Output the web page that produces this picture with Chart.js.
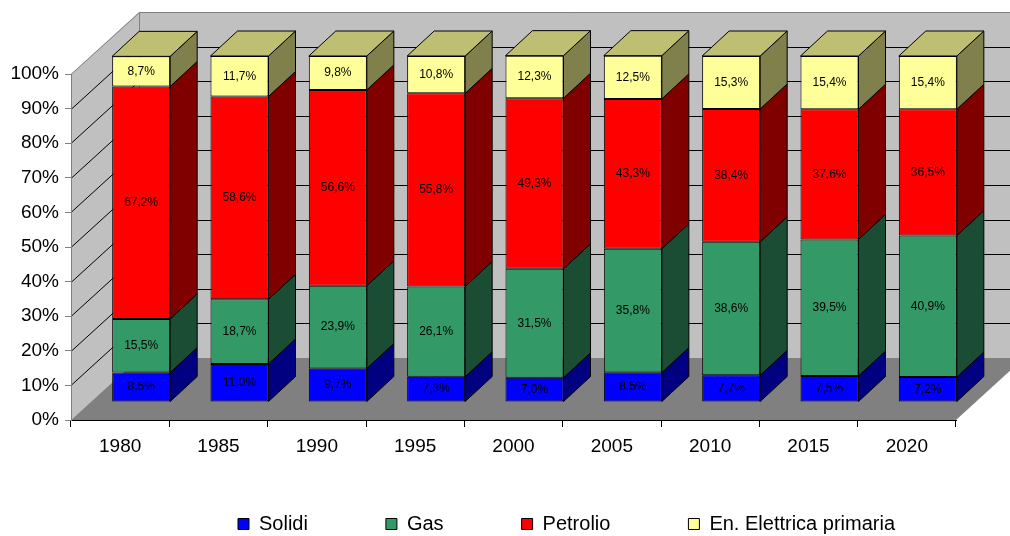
<!DOCTYPE html>
<html>
<head>
<meta charset="utf-8">
<style>
  html, body { margin: 0; padding: 0; background: #fff; }
  #wrap { width: 1010px; height: 536px; }
</style>
</head>
<body>
<div id="wrap"><canvas id="chart" width="1010" height="536"></canvas></div>
<script src="https://cdn.jsdelivr.net/npm/chart.js@4.4.1/dist/chart.umd.min.js"></script>
<script>
/* DATA */
const years = ['1980', '1985', '1990', '1995', '2000', '2005', '2010', '2015', '2020']
const solidi = [8.5, 11.0, 9.7, 7.3, 7.0, 8.5, 7.7, 7.5, 7.2]
const gas = [15.5, 18.7, 23.9, 26.1, 31.5, 35.8, 38.6, 39.5, 40.9]
const petrolio = [67.2, 58.6, 56.6, 55.8, 49.3, 43.3, 38.4, 37.6, 36.5]
const elettrica = [8.7, 11.7, 9.8, 10.8, 12.3, 12.5, 15.3, 15.4, 15.4]
const seriesNames = ['Solidi', 'Gas', 'Petrolio', 'En. Elettrica primaria']
const yTicks = [0, 10, 20, 30, 40, 50, 60, 70, 80, 90, 100]

/* LOOK */
const front = ['#0000ff', '#339966', '#ff0000', '#ffff99']
const side = ['#000080', '#1a4d33', '#800000', '#80804d']
const topFace = '#bfbf73'
const WALL = { dx: 68, dy: -62 }      // depth of the whole box
const BAR = { ox: 21, oy: -18, dx: 27, dy: -25 } // bar placement inside the box
const LEGEND_PAD = 78
const LEGEND_FONT = 20

Chart.defaults.font.family = 'Arial, "Liberation Sans", sans-serif'
Chart.defaults.color = '#000'

const fmt = v => v.toFixed(1).replace('.', ',') + '%'

// back wall, side wall, floor and their grid lines
const box3d = {
  id: 'box3d',
  beforeDraw(chart) {
    const { ctx, chartArea: a } = chart
    const ys = chart.scales.y
    const W = chart.width
    const bx = a.left + WALL.dx

    ctx.save()
    ctx.fillStyle = '#c0c0c0'
    ctx.fillRect(bx, a.top + WALL.dy, W - bx, a.bottom - a.top)

    ctx.beginPath()
    ctx.moveTo(a.left, a.bottom)
    ctx.lineTo(a.left, a.top)
    ctx.lineTo(bx, a.top + WALL.dy)
    ctx.lineTo(bx, a.bottom + WALL.dy)
    ctx.closePath()
    ctx.fill()

    ctx.fillStyle = '#808080'
    ctx.beginPath()
    ctx.moveTo(a.left, a.bottom)
    ctx.lineTo(a.right, a.bottom)
    ctx.lineTo(a.right + WALL.dx, a.bottom + WALL.dy)
    ctx.lineTo(bx, a.bottom + WALL.dy)
    ctx.closePath()
    ctx.fill()

    ctx.lineWidth = 1
    ctx.strokeStyle = '#000'
    for (const v of yTicks) {
      if (v === 0 || v === 100) continue
      const py = Math.round(ys.getPixelForValue(v)) + 0.5
      ctx.beginPath()
      ctx.moveTo(a.left, py)
      ctx.lineTo(bx, py + WALL.dy)
      ctx.lineTo(W, py + WALL.dy)
      ctx.stroke()
    }

    const ty = Math.round(a.top) + 0.5
    ctx.strokeStyle = '#808080'
    ctx.beginPath()
    ctx.moveTo(a.left, ty)
    ctx.lineTo(bx + 0.5, ty + WALL.dy)
    ctx.lineTo(W, ty + WALL.dy)
    ctx.moveTo(bx + 0.5, ty + WALL.dy)
    ctx.lineTo(bx + 0.5, a.bottom + WALL.dy)
    ctx.stroke()
    ctx.restore()
  }
}

// pushes the bars into the box and adds their side / top faces and labels
const bars3d = {
  id: 'bars3d',
  beforeDatasetsDraw(chart) {
    chart.ctx.save()
    chart.ctx.translate(BAR.ox, BAR.oy)
  },
  afterDatasetsDraw(chart) {
    const ctx = chart.ctx
    const n = chart.data.datasets.length
    ctx.lineWidth = 1
    ctx.strokeStyle = '#000'
    ctx.lineJoin = 'round'

    for (let d = 0; d < n; d++) {
      const meta = chart.getDatasetMeta(d)
      meta.data.forEach(el => {
        const r = el.x + el.width / 2
        const l = el.x - el.width / 2
        ctx.fillStyle = side[d]
        ctx.beginPath()
        ctx.moveTo(r, el.base)
        ctx.lineTo(r, el.y)
        ctx.lineTo(r + BAR.dx, el.y + BAR.dy)
        ctx.lineTo(r + BAR.dx, el.base + BAR.dy)
        ctx.closePath()
        ctx.fill()
        ctx.stroke()

        if (d === n - 1) {
          ctx.fillStyle = topFace
          ctx.beginPath()
          ctx.moveTo(l, el.y)
          ctx.lineTo(l + BAR.dx, el.y + BAR.dy)
          ctx.lineTo(r + BAR.dx, el.y + BAR.dy)
          ctx.lineTo(r, el.y)
          ctx.closePath()
          ctx.fill()
          ctx.stroke()
        }
      })
    }

    ctx.font = '12px Arial, "Liberation Sans", sans-serif'
    ctx.fillStyle = '#000'
    ctx.textAlign = 'center'
    ctx.textBaseline = 'middle'
    for (let d = 0; d < n; d++) {
      const meta = chart.getDatasetMeta(d)
      const values = chart.data.datasets[d].data
      meta.data.forEach((el, i) => {
        ctx.fillText(fmt(values[i]), el.x, (el.y + el.base) / 2)
      })
    }
    ctx.restore()
  }
}

// legend sits low and a little right of centre
const legendPlace = {
  id: 'legendPlace',
  afterLayout(chart) {
    const lg = chart.legend
    const cur = (lg.left + LEGEND_PAD + lg.right - lg.lineWidths[0]) / 2
    const shift = 238 - cur
    lg.left += shift
    lg.right += shift
    lg.top = 524 - LEGEND_PAD - LEGEND_FONT / 2
    lg.bottom = chart.height
  }
}

const seriesData = [solidi, gas, petrolio, elettrica]

new Chart(document.getElementById('chart'), {
  type: 'bar',
  data: {
    labels: years,
    datasets: seriesData.map((data, i) => ({
      label: seriesNames[i],
      data: data,
      backgroundColor: front[i],
      borderColor: '#000',
      borderWidth: 1,
      borderSkipped: false,
      categoryPercentage: 1,
      barPercentage: 0.59,
      clip: false
    }))
  },
  options: {
    responsive: false,
    animation: false,
    devicePixelRatio: 1,
    layout: { padding: { top: 74, right: 54, bottom: 0, left: 0 } },
    scales: {
      x: {
        stacked: true,
        offset: true,
        grid: { offset: true, drawOnChartArea: false, tickLength: 7, color: '#000' },
        border: { color: '#000' },
        ticks: { font: { size: 19 }, padding: 8, maxRotation: 0 },
        afterFit(scale) { scale.height = 76 }
      },
      y: {
        stacked: true,
        min: 0,
        max: 100,
        grid: { drawOnChartArea: false, tickLength: 6, color: '#808080' },
        border: { color: '#808080' },
        ticks: { stepSize: 10, font: { size: 19 }, padding: 6, callback: v => v + '%' },
        afterFit(scale) { scale.width = 71 }
      }
    },
    plugins: {
      tooltip: { enabled: false },
      legend: {
        position: 'bottom',
        maxHeight: 40,
        labels: {
          boxWidth: 11,
          boxHeight: 11,
          padding: LEGEND_PAD,
          font: { size: LEGEND_FONT }
        }
      }
    }
  },
  plugins: [box3d, bars3d, legendPlace]
})
</script>
</body>
</html>
